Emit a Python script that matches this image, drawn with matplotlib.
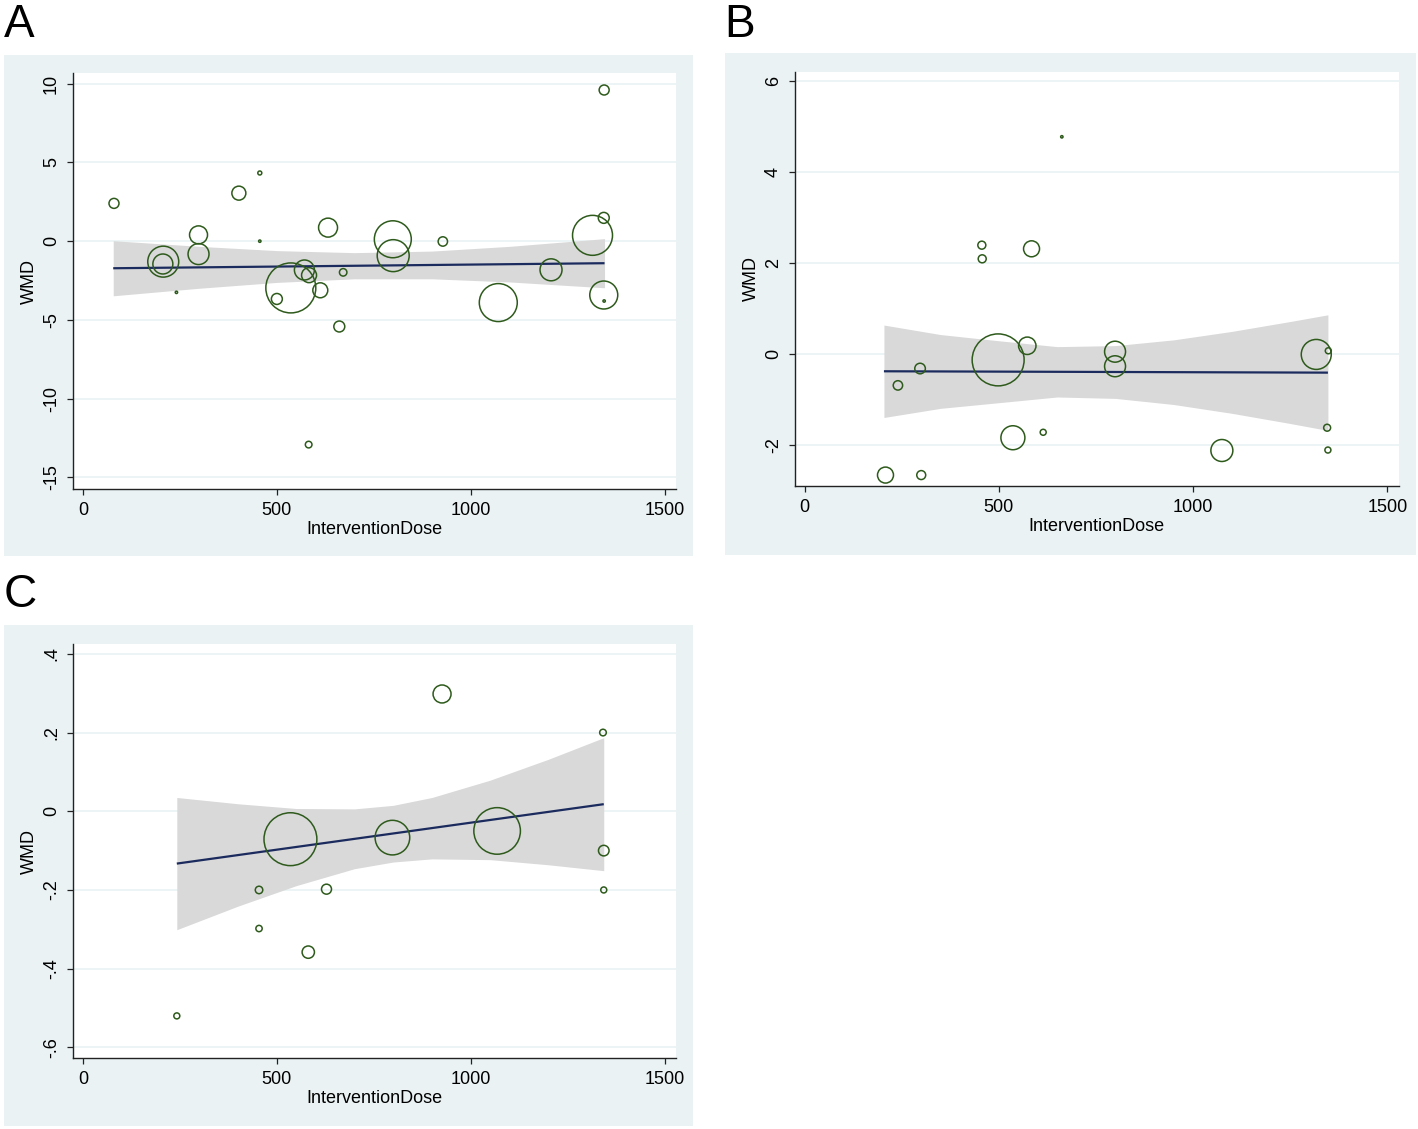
import matplotlib
matplotlib.use("Agg")
import matplotlib.pyplot as plt
from matplotlib.patches import Rectangle
import numpy as np

plt.rcParams['font.family'] = ['Liberation Sans', 'DejaVu Sans']

# ---------------- Data ----------------
# Panel A
a_dose = [80, 402, 456, 456, 241, 207, 206, 298, 298, 500, 536, 571, 583, 612,
          632, 671, 661, 582, 799, 800, 928, 1071, 1207, 1314, 1344, 1343, 1343, 1344]
a_wmd = [2.40, 3.05, 4.33, 0.0, -3.25, -1.30, -1.45, 0.40, -0.82, -3.67, -2.97, -1.83,
         -2.16, -3.12, 0.86, -1.98, -5.42, -12.92, 0.12, -0.92, -0.02, -3.90, -1.82,
         0.37, 9.60, 1.48, -3.42, -3.80]
a_weight = [25, 49, 4, 1.4, 1.4, 240, 100, 81, 110, 30, 625, 100, 56, 56,
            90, 14, 30, 11, 342, 256, 22, 361, 121, 400, 25, 30, 196, 1.4]
a_fit_x = [78, 1345]
a_fit_y = [-1.72, -1.40]
a_ci_x = [78, 300, 500, 700, 900, 1100, 1345]
a_ci_hi = [0.03, -0.33, -0.60, -0.73, -0.63, -0.33, 0.16]
a_ci_lo = [-3.47, -2.99, -2.62, -2.39, -2.39, -2.59, -2.96]
a_yticks = [10, 5, 0, -5, -10, -15]
a_yticklabels = ["10", "5", "0", "-5", "-10", "-15"]

# Panel B
b_dose = [662, 456, 457, 584, 498, 573, 297, 240, 799, 799, 1317, 1348, 536, 614,
          1074, 1345, 1347, 208, 300]
b_wmd = [4.78, 2.40, 2.10, 2.32, -0.12, 0.19, -0.31, -0.68, 0.06, -0.26, 0.0, 0.08,
         -1.83, -1.71, -2.11, -1.61, -2.10, -2.65, -2.65]
b_weight = [1.4, 16, 16, 64, 676, 76, 28, 22, 110, 110, 225, 9, 144, 9,
            121, 12, 9, 64, 20]
b_fit_x = [204, 1347]
b_fit_y = [-0.37, -0.40]
b_ci_x = [204, 350, 500, 650, 800, 950, 1100, 1250, 1347]
b_ci_hi = [0.645, 0.436, 0.30, 0.171, 0.194, 0.32, 0.506, 0.723, 0.87]
b_ci_lo = [-1.385, -1.184, -1.06, -0.935, -0.966, -1.10, -1.294, -1.517, -1.67]
b_yticks = [6, 4, 2, 0, -2]
b_yticklabels = ["6", "4", "2", "0", "-2"]

# Panel C
c_dose = [926, 1341, 535, 798, 1068, 1343, 454, 628, 1343, 454, 581, 242]
c_wmd = [0.298, 0.200, -0.071, -0.067, -0.050, -0.100, -0.200, -0.198, -0.200,
         -0.298, -0.358, -0.520]
c_weight = [81, 11, 700, 300, 543, 28, 14, 25, 9, 10, 38, 9]
c_fit_x = [242, 1343]
c_fit_y = [-0.133, 0.018]
c_ci_x = [242, 400, 550, 700, 800, 900, 1050, 1200, 1343]
c_ci_hi = [0.035, 0.019, 0.007, 0.006, 0.015, 0.035, 0.079, 0.132, 0.187]
c_ci_lo = [-0.301, -0.241, -0.189, -0.146, -0.129, -0.121, -0.123, -0.136, -0.151]
c_yticks = [0.4, 0.2, 0, -0.2, -0.4, -0.6]
c_yticklabels = [".4", ".2", "0", "-.2", "-.4", "-.6"]

x_ticks = [0, 500, 1000, 1500]
x_label = "InterventionDose"
y_label = "WMD"
panel_letters = ["A", "B", "C"]

# ---------------- Styling ----------------
W, H = 1418, 1129
fig = plt.figure(figsize=(W / 100, H / 100), dpi=100)
fig.patch.set_facecolor("white")

BG = "#EAF2F3"
GRID = "#EAF2F3"
GREEN = "#2E5A1C"
NAVY = "#1C2B5E"
BAND = "#D9D9D9"
SIZE_SCALE = 2.07  # weight (px radius^2) -> points^2


def fig_rect(x0, y0, x1, y1):
    """pixel box (top-left origin) -> figure fraction [l, b, w, h]"""
    return [x0 / W, 1 - y1 / H, (x1 - x0) / W, (y1 - y0) / H]


def add_bg(x0, y0, x1, y1):
    l, b, w, h = fig_rect(x0, y0, x1, y1)
    fig.patches.append(Rectangle((l, b), w, h, transform=fig.transFigure,
                                 facecolor=BG, edgecolor="none", zorder=0))


panels = [
    dict(bg=(4, 55, 693, 556), ax=(72.5, 73, 675.5, 489), xlim=(-27, 1528),
         ylim=(-15.74, 10.68), dose=a_dose, wmd=a_wmd, w=a_weight,
         fx=a_fit_x, fy=a_fit_y, cx=a_ci_x, chi=a_ci_hi, clo=a_ci_lo,
         yt=a_yticks, ytl=a_yticklabels, letter=(4, 37)),
    dict(bg=(725, 53, 1416, 555), ax=(794.6, 71.7, 1398.6, 486), xlim=(-26, 1529),
         ylim=(-2.89, 6.21), dose=b_dose, wmd=b_wmd, w=b_weight,
         fx=b_fit_x, fy=b_fit_y, cx=b_ci_x, chi=b_ci_hi, clo=b_ci_lo,
         yt=b_yticks, ytl=b_yticklabels, letter=(724, 37)),
    dict(bg=(4, 625, 693, 1126), ax=(72.5, 644, 675.5, 1058), xlim=(-27, 1528),
         ylim=(-0.627, 0.425), dose=c_dose, wmd=c_wmd, w=c_weight,
         fx=c_fit_x, fy=c_fit_y, cx=c_ci_x, chi=c_ci_hi, clo=c_ci_lo,
         yt=c_yticks, ytl=c_yticklabels, letter=(4, 607)),
]

for i, p in enumerate(panels):
    add_bg(*p["bg"])
    ax = fig.add_axes(fig_rect(*p["ax"]))
    ax.set_facecolor("white")
    ax.set_zorder(1)
    ax.set_xlim(*p["xlim"])
    ax.set_ylim(*p["ylim"])

    for yv in p["yt"]:
        ax.axhline(yv, color=GRID, lw=1.2, zorder=0.5)

    ax.fill_between(p["cx"], p["clo"], p["chi"], color=BAND, lw=0, zorder=1)
    ax.plot(p["fx"], p["fy"], color=NAVY, lw=1.6, zorder=2, solid_capstyle="butt")

    sizes = [SIZE_SCALE * wv for wv in p["w"]]
    ax.scatter(p["dose"], p["wmd"], s=sizes, facecolors="none",
               edgecolors=GREEN, linewidths=1.1, zorder=3)

    ax.set_xticks(x_ticks)
    ax.set_xticklabels([str(t) for t in x_ticks])
    ax.set_yticks(p["yt"])
    ax.set_yticklabels(p["ytl"])
    for lbl in ax.get_yticklabels():
        lbl.set_rotation(90)
        lbl.set_va("center")
        lbl.set_ha("right")

    for side in ["top", "right"]:
        ax.spines[side].set_visible(False)
    for side in ["left", "bottom"]:
        ax.spines[side].set_color("#222222")
        ax.spines[side].set_linewidth(1.0)
    ax.tick_params(axis="both", direction="out", length=4, width=0.9,
                   color="#222222", labelsize=13, labelcolor="black", pad=5)
    ax.set_xlabel(x_label, fontsize=13, labelpad=2)
    ax.set_ylabel(y_label, fontsize=13, labelpad=4)

    lx, ly = p["letter"]
    fig.text(lx / W, 1 - ly / H, panel_letters[i], fontsize=33,
             ha="left", va="baseline", color="black")

fig.savefig("out.png", dpi=100, facecolor="white")
